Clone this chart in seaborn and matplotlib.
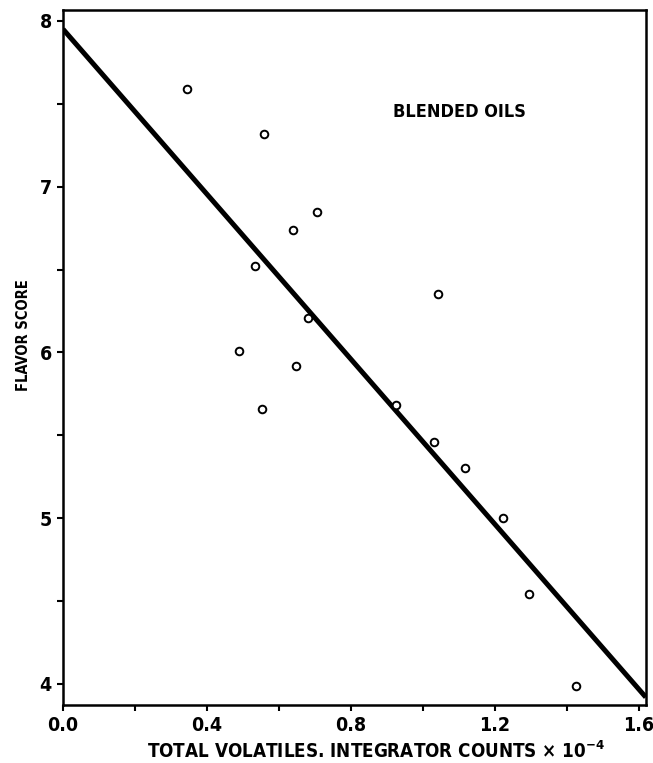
import matplotlib
matplotlib.use("Agg")
import matplotlib.pyplot as plt
import seaborn as sns
import pandas as pd
from matplotlib.ticker import MultipleLocator

# Total volatiles (integrator counts x 10^-4) and flavor scores for blended oils
volatiles = [0.344, 0.558, 0.705, 0.640, 0.533, 1.042, 0.682, 0.489, 0.647,
             0.553, 0.925, 1.031, 1.117, 1.222, 1.294, 1.425]
flavor = [7.59, 7.32, 6.85, 6.74, 6.52, 6.35, 6.21, 6.01, 5.92,
          5.66, 5.68, 5.46, 5.30, 5.00, 4.54, 3.99]

# Regression line end points
line_x = [0.0, 1.62]
line_y = [7.95, 3.92]

x_ticks = [0.0, 0.4, 0.8, 1.2, 1.6]
x_tick_labels = ["0.0", "0.4", "0.8", "1.2", "1.6"]
y_ticks = [4, 5, 6, 7, 8]
y_tick_labels = ["4", "5", "6", "7", "8"]

sns.set_theme(style="ticks")
plt.rcParams["font.family"] = ["DejaVu Sans"]
plt.rcParams["font.stretch"] = "condensed"
plt.rcParams["font.weight"] = "bold"
plt.rcParams["text.color"] = "black"
plt.rcParams["axes.labelcolor"] = "black"
plt.rcParams["xtick.color"] = "black"
plt.rcParams["ytick.color"] = "black"
plt.rcParams["mathtext.fontset"] = "dejavusans"

fig = plt.figure(figsize=(6.53, 7.63), dpi=100)
ax = fig.add_axes([0.0965, 0.076, 0.8925, 0.911])

pts = pd.DataFrame({"x": volatiles, "y": flavor})
fit = pd.DataFrame({"x": line_x, "y": line_y})

sns.lineplot(data=fit, x="x", y="y", ax=ax, color="black", linewidth=3.6,
             solid_capstyle="butt")
sns.scatterplot(data=pts, x="x", y="y", ax=ax, marker="o", s=30,
                facecolor="white", edgecolor="black", linewidth=1.4, zorder=3)

ax.set_xlim(0.0, 1.62)
ax.set_ylim(3.873, 8.066)
ax.set_xticks(x_ticks)
ax.set_xticklabels(x_tick_labels)
ax.set_yticks(y_ticks)
ax.set_yticklabels(y_tick_labels)
ax.xaxis.set_minor_locator(MultipleLocator(0.2))
ax.yaxis.set_minor_locator(MultipleLocator(0.5))

ax.tick_params(which="both", direction="out", width=1.5, colors="black")
ax.tick_params(which="major", length=4, labelsize=14, pad=4)
ax.tick_params(which="minor", length=4)
for lab in ax.get_xticklabels() + ax.get_yticklabels():
    lab.set_fontweight("bold")
    lab.set_fontstretch("condensed")

for sp in ax.spines.values():
    sp.set_visible(True)
    sp.set_linewidth(1.8)
    sp.set_color("black")

ax.set_xlabel(r"TOTAL VOLATILES. INTEGRATOR COUNTS $\times$ 10$^{-4}$",
              fontsize=13.5, fontweight="bold", fontstretch="condensed")
ax.xaxis.set_label_coords(0.537, -0.082, transform=ax.transAxes)
ax.xaxis.label.set_va("bottom")

ax.set_ylabel("FLAVOR SCORE", fontsize=10.5, fontweight="bold",
              fontstretch="condensed")
ax.yaxis.set_label_coords(-0.055, 0.532, transform=ax.transAxes)

ax.text(1.103, 7.45, "BLENDED OILS", fontsize=13, fontweight="bold",
        fontstretch="condensed", ha="center", va="center")

fig.savefig("out.png", dpi=100, facecolor="white")
